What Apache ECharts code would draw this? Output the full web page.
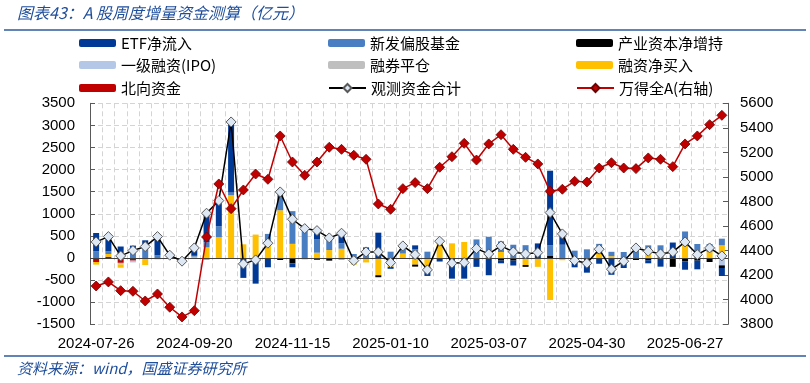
<!DOCTYPE html>
<html><head><meta charset="utf-8">
<script src="https://cdn.jsdelivr.net/npm/echarts@6/dist/echarts.min.js"></script>
<style>html,body{margin:0;padding:0;background:#fff}#c{width:810px;height:383px}</style>
</head><body><div id="c"></div>
<script>
const categories = ['2024-07-26','2024-08-02','2024-08-09','2024-08-16','2024-08-23','2024-08-30','2024-09-06','2024-09-13','2024-09-20','2024-09-27','2024-09-30','2024-10-11','2024-10-18','2024-10-25','2024-11-01','2024-11-08','2024-11-15','2024-11-22','2024-11-29','2024-12-06','2024-12-13','2024-12-20','2024-12-27','2025-01-03','2025-01-10','2025-01-17','2025-01-24','2025-01-27','2025-02-07','2025-02-14','2025-02-21','2025-02-28','2025-03-07','2025-03-14','2025-03-21','2025-03-28','2025-04-03','2025-04-11','2025-04-18','2025-04-25','2025-04-30','2025-05-09','2025-05-16','2025-05-23','2025-05-30','2025-06-06','2025-06-13','2025-06-20','2025-06-27','2025-07-04','2025-07-11','2025-07-18'];

const etfFlow = [415,340,230,150,175,460,50,-60,180,690,580,1600,-450,-580,-210,0,-90,0,190,100,260,0,180,573,-45,0,90,-210,-80,-467,-467,-200,-390,-60,-110,0,330,1690,300,-211,-332,-130,-340,-226,0,-70,-196,350,-190,-196,0,-181];
const newFund = [150,60,30,130,225,60,0,0,20,120,250,60,0,0,170,450,740,700,310,220,120,90,60,0,143,170,196,143,0,0,0,420,480,241,300,290,0,240,300,166,196,230,100,136,287,196,287,0,300,317,180,150];
const industry = [0,0,0,0,0,0,0,0,0,-30,0,0,0,0,0,-45,-120,0,-40,-60,-30,0,0,-45,0,0,-45,0,0,0,0,0,0,-60,-60,-40,0,45,0,0,0,0,-40,0,-45,-50,0,-200,-75,-60,-90,-60];
const ipo = [0,0,-35,-40,-20,0,0,-12,0,0,0,0,0,0,0,0,0,-35,0,0,0,-30,0,0,0,0,0,0,0,0,0,0,0,0,0,0,0,0,0,0,0,0,0,0,0,0,0,0,0,0,0,-166];
const shortCover = [0,0,0,0,0,0,0,0,0,0,0,0,0,0,0,0,0,0,0,0,0,0,0,0,0,0,0,0,0,0,0,0,0,0,0,0,0,0,0,0,0,0,0,0,0,0,0,0,0,0,0,0];
const marginBuy = [-60,60,-75,0,-140,-30,20,0,30,240,470,1420,310,530,375,1080,320,0,120,180,210,-120,-100,-390,-200,100,-150,-196,360,332,362,0,0,136,0,-160,-200,-950,-50,0,0,90,40,0,0,90,0,0,300,0,136,287];
const northbound = [-90,30,-110,-60,0,0,0,0,0,0,0,0,0,0,0,0,0,0,0,0,0,0,0,0,0,0,0,0,0,0,0,0,0,0,0,0,0,0,0,0,0,0,0,0,0,0,0,0,0,0,0,0];
const totalFlow = [364,485,48,168,258,485,63,-72,228,1013,1298,3078,-133,-43,335,1495,877,665,620,455,561,-59,138,138,-104,274,77,-269,380,-118,-104,213,93,274,138,93,122,1027,545,-59,-118,199,-253,-72,228,154,93,138,364,77,228,48];
const windA = [4112,4145,4074,4069,3990,4047,3939,3860,3911,4511,4943,4742,4894,5024,4981,5334,5122,5014,5122,5242,5225,5177,5144,4780,4737,4905,4954,4905,5079,5165,5274,5138,5269,5344,5225,5160,5106,4883,4900,4965,4959,5073,5116,5073,5068,5155,5144,5084,5269,5334,5426,5502];
const leftTicks = {min:-1500, max:3500, interval:500};
const rightTicks = {min:3800, max:5600, interval:200};

const FONT = '"Liberation Sans","Noto Sans CJK SC",sans-serif';
const CJK = '"Noto Sans CJK SC","Liberation Sans",sans-serif';
const BLUE_TXT = '#1F4E9A';

const barDefs = [
  {name:'北向资金', data:northbound, color:'#C00000'},
  {name:'一级融资(IPO)', data:ipo, color:'#B4C7E7'},
  {name:'融券平仓', data:shortCover, color:'#BFBFBF'},
  {name:'融资净买入', data:marginBuy, color:'#FFC000'},
  {name:'产业资本净增持', data:industry, color:'#000000'},
  {name:'新发偏股基金', data:newFund, color:'#4A7EC2'},
  {name:'ETF净流入', data:etfFlow, color:'#003A96'}
];

const legendLayout = [
  ['ETF净流入',79,43],['新发偏股基金',328,43],['产业资本净增持',576,43],
  ['一级融资(IPO)',79,65],['融券平仓',328,65],['融资净买入',576,65],
  ['北向资金',79,88],['观测资金合计',328,88],['万得全A(右轴)',576,88]
];

const series = barDefs.map((b, i) => ({
  name: b.name, type: 'bar', stack: 'total', yAxisIndex: 0, barWidth: 6,
  data: b.data, itemStyle: {color: b.color},
  markLine: i === barDefs.length - 1 ? {
    silent: true, symbol: ['none','none'], label: {show:false},
    lineStyle: {color:'#404040', width:1, type:'solid'}, data: [{yAxis:0}]
  } : undefined
}));
series.push({
  name:'观测资金合计', type:'line', yAxisIndex:0, data: totalFlow, z: 5,
  symbol:'diamond', symbolSize:10, showAllSymbol:true,
  lineStyle:{color:'#000', width:1.5},
  itemStyle:{color:'#DDE8F4', borderColor:'#5A5A5A', borderWidth:1}
});
series.push({
  name:'万得全A(右轴)', type:'line', yAxisIndex:1, data: windA, z: 6,
  symbol:'diamond', symbolSize:10, showAllSymbol:true,
  lineStyle:{color:'#C00000', width:1.5},
  itemStyle:{color:'#C00000', borderColor:'#6E0000', borderWidth:0.8}
});

const plain = v => String(v);
const chart = echarts.init(document.getElementById('c'));
chart.setOption({
  animation: false,
  textStyle: {fontFamily: FONT},
  grid: {left:90, right:82, top:103.3, bottom:58.7},
  legend: legendLayout.map(([n, x, y]) => ({
    data: [n], left: x, top: y - 10, padding: 0, selectedMode: false,
    itemWidth: 37, itemHeight: (n === '观测资金合计' || n === '万得全A(右轴)') ? 10 : 8,
    textStyle: {fontSize: 15, lineHeight: 20, color: '#000', fontFamily: CJK}
  })),
  xAxis: {
    type:'category', data: categories, boundaryGap: true,
    axisLine:{show:false}, axisTick:{show:false},
    axisLabel:{interval:7, fontSize:15, color:'#000', margin:12, fontFamily:FONT},
    splitLine:{show:true, interval:0, lineStyle:{color:'#D4D4D4', type:[5,3], width:1}}
  },
  yAxis: [
    {type:'value', min:leftTicks.min, max:leftTicks.max, interval:leftTicks.interval,
     axisLine:{show:true, lineStyle:{color:'#595959'}},
     axisTick:{show:true, inside:true, length:5, lineStyle:{color:'#595959'}},
     axisLabel:{fontSize:15, color:'#000', margin:15, formatter: plain},
     splitLine:{show:true, lineStyle:{color:'#D4D4D4', type:[5,3], width:1}}},
    {type:'value', position:'right', min:rightTicks.min, max:rightTicks.max, interval:rightTicks.interval,
     axisLine:{show:true, lineStyle:{color:'#595959'}},
     axisTick:{show:true, inside:true, length:5, lineStyle:{color:'#595959'}},
     axisLabel:{fontSize:15, color:'#000', margin:12, formatter: plain},
     splitLine:{show:false}}
  ],
  graphic: [
    {type:'text', left:17, top:5, style:{text:'图表43：A 股周度增量资金测算（亿元）', fill:BLUE_TXT, font:'italic 16px ' + CJK}},
    {type:'line', shape:{x1:4, y1:30, x2:806, y2:30}, style:{stroke:'#2E5A9C', lineWidth:1.5}},
    {type:'line', shape:{x1:4, y1:356, x2:806, y2:356}, style:{stroke:'#2E5A9C', lineWidth:1.5}},
    {type:'text', left:17, top:361, style:{text:'资料来源：wind，国盛证券研究所', fill:BLUE_TXT, font:'italic 15px ' + CJK}}
  ],
  series: series
});
</script></body></html>
